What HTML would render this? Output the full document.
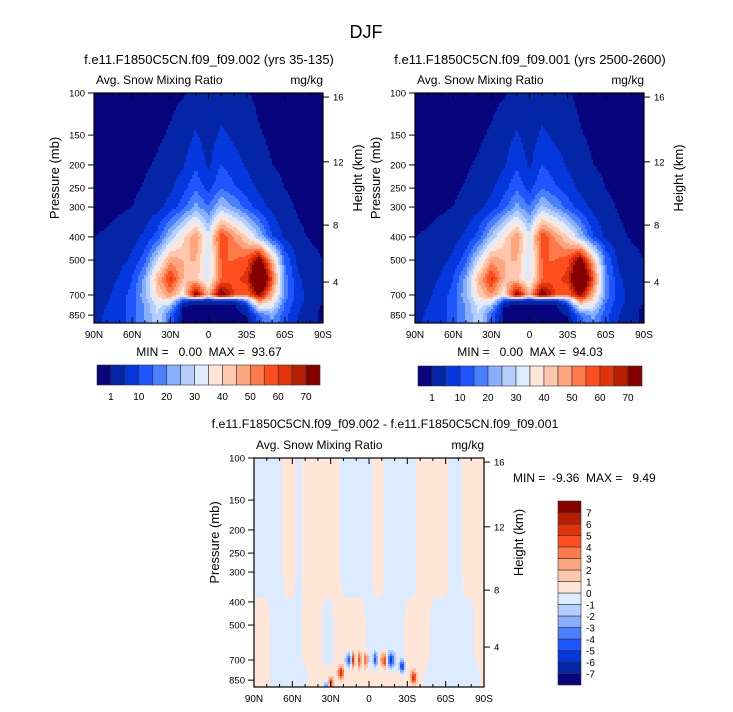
<!DOCTYPE html>
<html><head><meta charset="utf-8">
<style>
html,body{margin:0;padding:0;background:#fff;}
svg{display:block;font-family:"Liberation Sans",sans-serif;}
</style></head>
<body>
<svg id="fig" width="733" height="712" viewBox="0 0 733 712" xmlns="http://www.w3.org/2000/svg">
<text x="366" y="38" font-size="18" text-anchor="middle">DJF</text>
</svg>
<script>
// ---------- data ----------
const palette = ['#07047d','#0325a6','#0437dc','#1e55ff','#4a80ff','#88aeff','#b6cdff','#dcebff','#ffe6d7','#ffc8ae','#ffa67f','#ff7a4b','#ff4e1e','#e1320a','#b71f00','#860000'];
const snowLevels = [1,5,10,15,20,25,30,35,40,45,50,55,60,65,70];
const snowLabels = ['1','10','20','30','40','50','60','70'];
const diffLevels = [-7,-6,-5,-4,-3,-2,-1,0,1,2,3,4,5,6,7];
const diffLabels = ['-7','-6','-5','-4','-3','-2','-1','0','1','2','3','4','5','6','7'];
const lats = [90,80,70,60,50,40,30,20,10,0,-10,-20,-30,-40,-50,-60,-70,-80,-90];
const pLevels = [100,150,200,250,300,400,500,600,700,740,780,850,950];
const snow100 = [0,0,0,0,0,0,0.3,0.8,1.5,1.3,1.8,2.0,1.2,0.4,0,0,0,0,0];
const snow150 = [0,0,0,0,0.3,0.6,1.3,2.5,5.5,2.5,6,4,2.5,1.2,0.5,0.2,0,0,0];
const snow200 = [0,0,0,0.3,0.7,1.3,2.5,4.5,9,4,10,7,4.5,2.2,1.0,0.5,0.2,0,0];
const snow250 = [0,0,0.3,0.6,1.2,2.2,4,8,14,8,15,11,7,4,2,1,0.4,0.1,0];
const snow300 = [0,0.3,0.6,1,2,3.5,7,13,22,15,26,20,13,7,3.5,1.6,0.8,0.3,0.1];
const snow400 = [1,1.3,2,3.2,6,12,26,38,50,32,60,50,40,25,10,4,1.5,0.8,0.5];
const snow500 = [1.5,2.2,3.5,6,13,30,48,45,45,30,55,55,58,75,45,14,4,1.6,1];
const snow600 = [2,3.2,5.5,10,22,45,62,45,42,32,55,58,62,95,58,18,6,2.5,1.2];
const snow700 = [2.5,4,7,12,24,40,50,35,75,45,78,60,55,72,45,18,7,3,1];
const snow740 = [3,4.5,7.5,12,22,35,38,8,3,3,3,3,18,50,38,16,7,3,1];
const snow780 = [3.5,5,8,12,20,32,24,1,0.3,0.3,0.3,0.3,4,35,32,14,6,2.5,0.5];
const snow850 = [4,5.5,8,12,20,30,14,0.5,0.2,0.2,0.2,0.2,1,15,22,12,5,2.5,0];
const snow950 = [4,5.5,8,12,20,30,12,0.5,0.2,0.2,0.2,0.2,0.5,10,18,10,5,2.5,0];
const snowA = [snow100,snow150,snow200,snow250,snow300,snow400,snow500,snow600,snow700,snow740,snow780,snow850,snow950];
const snowB = snowA.map(r => r.slice());
// difference field
const diffLats = [90,85,80,75,70,65,60,55,50,45,40,35,30,25,20,15,10,5,0,-5,-10,-15,-20,-25,-30,-35,-40,-45,-50,-55,-60,-65,-70,-75,-80,-85,-90];
const diffP = [100,300,500,650,850,950];
const diffUpper = [-.4,-.4,-.4,-.4,-.4,.4,.4,-.4,.4,.4,.4,.4,.4,.4,-.4,-.4,-.4,-.4,-.4,.4,.4,-.4,-.4,-.4,-.4,-.4,.4,.4,.4,.4,.4,-.4,-.4,.4,.4,.4,.4];
const diffLower = [.4,.4,.4,-.4,-.4,-.4,-.4,-.4,.4,.4,.4,-.4,-.4,.4,.4,.4,.4,.4,-.4,-.4,-.4,-.4,-.4,-.4,.4,.4,.4,.4,-.4,-.4,-.4,-.4,-.4,-.4,-.4,.4,.4];
const diffLow = [.4,.4,.4,-.4,-.4,-.4,-.4,-.4,-.4,.4,.4,.4,.4,.4,.4,.4,.4,.4,.4,.4,.4,.4,.4,.4,.4,.4,.4,-.4,-.4,-.4,-.4,-.4,-.4,-.4,-.4,-.4,.4];
const diffRows = [diffUpper,diffUpper,diffLower,diffLower,diffLow,diffLow];
const stripeLats = [20,17.5,15,12.5,10,7.5,5,2.5,0,-2.5,-5,-7.5,-10,-12.5,-15,-17.5,-20,-22.5];
const stripeVals = [0,-3,-5.5,5,-1,5,-1,5,-1,0,-5,0,3,5,-3,-5.5,-2,0];
const blobLat = [22,30,-26,-35,33];
const blobP = [790,880,745,830,900];
const blobAmp = [5.5,5,-5.5,5.5,-4];
// ---------- helpers ----------
const SVGNS = 'http://www.w3.org/2000/svg';
const svg = document.getElementById('fig');
function mk(tag, attrs, parent){const e=document.createElementNS(SVGNS,tag);for(const k in attrs)e.setAttribute(k,attrs[k]);(parent||svg).appendChild(e);return e;}
function interp1(xs, ys, x){
  if(x>=xs[0])return ys[0]; if(x<=xs[xs.length-1])return ys[ys.length-1];
  for(let i=0;i<xs.length-1;i++){if(x<=xs[i]&&x>=xs[i+1]){const t=(xs[i]-x)/(xs[i]-xs[i+1]);return ys[i]*(1-t)+ys[i+1]*t;}}
  return 0;}
function gridVal(gLats, gP, rows, lat, p){
  const lp=Math.log(p);
  if(p<=gP[0])return interp1(gLats,rows[0],lat);
  if(p>=gP[gP.length-1])return interp1(gLats,rows[rows.length-1],lat);
  for(let j=0;j<gP.length-1;j++){if(p>=gP[j]&&p<=gP[j+1]){const t=(lp-Math.log(gP[j]))/(Math.log(gP[j+1])-Math.log(gP[j]));return interp1(gLats,rows[j],lat)*(1-t)+interp1(gLats,rows[j+1],lat)*t;}}
  return 0;}
function diffVal(lat,p){
  let v=gridVal(diffLats,diffP,diffRows,lat,p);
  if(lat<=21&&lat>=-24){const s=interp1(stripeLats,stripeVals,lat);const d=Math.log(p/700)/0.07;v+=s*Math.exp(-d*d);}
  for(let i=0;i<blobLat.length;i++){const dl=(lat-blobLat[i])/2.2,dp=Math.log(p/blobP[i])/0.06;v+=blobAmp[i]*Math.exp(-dl*dl-dp*dp);}
  return v;}
function bin(levels,v){let k=0;while(k<levels.length&&v>=levels[k])k++;return k;}
const PPX = 103.8;
function makePanel(cfg){
  const {x0,y0,w,h,name}=cfg;
  const g=mk('g',{});
  
  
  const xOf=lat=>x0+(90-lat)/180*w;
  const yOf=p=>y0+Math.log(p/100)*PPX;
  const cells=mk('g',{},g);
  
  
  const step=2;
  for(let x=x0;x<x0+w;x+=step){
    const lat=90-(x+step/2-x0)/w*180;
    let runStart=y0,runBin=-1;
    for(let y=y0;y<y0+h+step;y+=step){
      let b=-1;
      if(y<y0+h){const p=100*Math.exp((y+step/2-y0)/PPX);b=bin(cfg.levels,cfg.f(lat,p));}
      if(b!==runBin){
        if(runBin>=0){const r=mk('rect',{x:x,y:runStart,width:Math.min(step,x0+w-x)+0.4,height:Math.min(y,y0+h)-runStart+0.4,fill:palette[runBin]},cells);
          
          }
        runStart=y;runBin=b;}
    }
  }
  mk('rect',{x:x0,y:y0,width:w,height:h,fill:'none',stroke:'#000','stroke-width':1.2},g);
  for(let lat=90;lat>=-90;lat-=10){const x=xOf(lat);const major=lat%30===0;const L=major?6:3;
    mk('line',{x1:x,x2:x,y1:y0+h,y2:y0+h-L,stroke:'#000','stroke-width':1},g);
    mk('line',{x1:x,x2:x,y1:y0,y2:y0+L,stroke:'#000','stroke-width':1},g);
    if(major){const t=mk('text',{x:x,y:y0+h+15,'font-size':10,'text-anchor':'middle'},g);t.textContent=lat===0?'0':Math.abs(lat)+(lat>0?'N':'S');
      
      }}
  [100,150,200,250,300,400,500,700,850].forEach(p=>{const y=yOf(p);
    mk('line',{x1:x0-6,x2:x0,y1:y,y2:y,stroke:'#000','stroke-width':1},g);
    const t=mk('text',{x:x0-9,y:y+3.5,'font-size':9.5,'text-anchor':'end'},g);t.textContent=p;
    
    });
  [[16,104],[12,194],[8,357],[4,618]].forEach(([z,p])=>{const y=yOf(p);
    mk('line',{x1:x0+w,x2:x0+w+6,y1:y,y2:y,stroke:'#000','stroke-width':1},g);
    const t=mk('text',{x:x0+w+10,y:y+3.5,'font-size':9.5},g);t.textContent=z;
    
    });
  const pl=mk('text',{x:0,y:0,'font-size':13,'text-anchor':'middle',transform:`translate(${x0-35},${y0+h/2-30}) rotate(-90)`},g);pl.textContent='Pressure (mb)';
  
  
  const hl=mk('text',{x:0,y:0,'font-size':13,'text-anchor':'middle',transform:`translate(${x0+w+39},${y0+h/2-30}) rotate(-90)`},g);hl.textContent='Height (km)';
  
  
  const a=mk('text',{x:x0+2,y:y0-9,'font-size':12},g);a.textContent='Avg. Snow Mixing Ratio';
  
  
  const u=mk('text',{x:x0+w,y:y0-9,'font-size':12,'text-anchor':'end'},g);u.textContent='mg/kg';
  
  
  const st=mk('text',{x:cfg.tx,y:cfg.ty,'font-size':cfg.tsize,'text-anchor':'middle'},g);st.textContent=cfg.title;
  
  
  const mm=mk('text',{x:cfg.mx,y:cfg.my,'font-size':12,'text-anchor':cfg.manchor,style:'white-space:pre'},g);mm.textContent=cfg.minmax;
  
  
}
function hColorbar(x0,y0,w,h,name){
  const g=mk('g',{});
  
  
  const bw=w/palette.length;
  palette.forEach((c,i)=>{const r=mk('rect',{x:x0+i*bw,y:y0,width:bw,height:h,fill:c,stroke:'#333','stroke-width':0.6},g);
    
    });
  snowLabels.forEach((s,k)=>{const t=mk('text',{x:x0+(1+2*k)*bw,y:y0+h+15,'font-size':10,'text-anchor':'middle'},g);t.textContent=s;
    
    });
}
function vColorbar(x0,y0,w,h){
  const g=mk('g',{});
  
  
  const bh=h/palette.length;
  palette.forEach((c,i)=>{const r=mk('rect',{x:x0,y:y0+h-(i+1)*bh,width:w,height:bh,fill:c,stroke:'#333','stroke-width':0.6},g);
    
    });
  diffLabels.forEach((s,k)=>{const t=mk('text',{x:x0+w+5,y:y0+h-(k+1)*bh+4,'font-size':10},g);t.textContent=s;
    
    });
}
makePanel({name:'panel-002',x0:94,y0:93,w:229,h:230,levels:snowLevels,f:(la,p)=>gridVal(lats,pLevels,snowA,la,p),
  title:'f.e11.F1850C5CN.f09_f09.002 (yrs 35-135)',tx:209,ty:64,tsize:13,minmax:'MIN =   0.00  MAX =  93.67',mx:209,my:356,manchor:'middle'});
makePanel({name:'panel-001',x0:415,y0:93,w:229,h:230,levels:snowLevels,f:(la,p)=>gridVal(lats,pLevels,snowB,la,p),
  title:'f.e11.F1850C5CN.f09_f09.001 (yrs 2500-2600)',tx:530,ty:64,tsize:13,minmax:'MIN =   0.00  MAX =  94.03',mx:530,my:356,manchor:'middle'});
makePanel({name:'panel-difference',x0:254,y0:458,w:230,h:229,levels:diffLevels,f:diffVal,
  title:'f.e11.F1850C5CN.f09_f09.002 - f.e11.F1850C5CN.f09_f09.001',tx:385,ty:428,tsize:12.4,minmax:'MIN =  -9.36  MAX =   9.49',mx:513,my:482,manchor:'start'});
hColorbar(97,365,223,20,'colorbar-002');
hColorbar(418,366,224,20,'colorbar-001');
vColorbar(558,501,23,184);
</script>
</body></html>
